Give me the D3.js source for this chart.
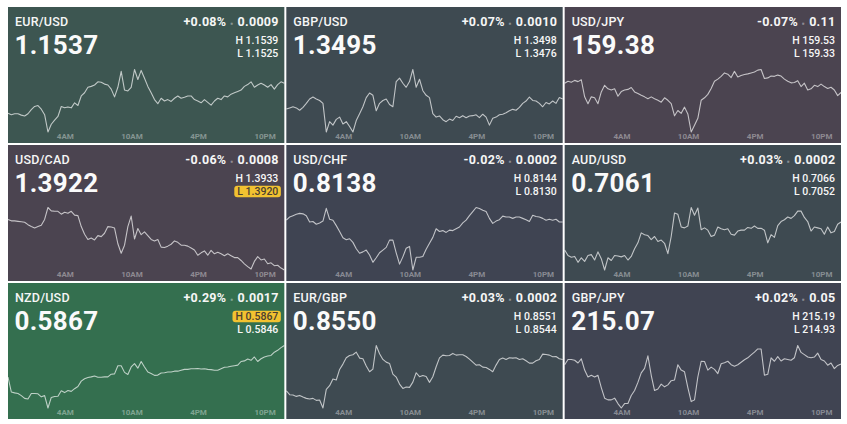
<!DOCTYPE html>
<html>
<head>
<meta charset="utf-8">
<script src="https://cdn.jsdelivr.net/npm/d3@7"></script>
<style>
  html, body { margin: 0; padding: 0; background: #fff; }
  svg { display: block; font-family: Roboto, "Noto Sans", sans-serif; }
</style>
</head>
<body>
<div class="fx-board"></div>
<script>
// ---- data ----
var pairs = ["EUR/USD", "GBP/USD", "USD/JPY", "USD/CAD", "USD/CHF", "AUD/USD", "NZD/USD", "EUR/GBP", "GBP/JPY"];
var lastPrices = ["1.1537", "1.3495", "159.38", "1.3922", "0.8138", "0.7061", "0.5867", "0.8550", "215.07"];
var changePct = ["+0.08%", "+0.07%", "-0.07%", "-0.06%", "-0.02%", "+0.03%", "+0.29%", "+0.03%", "+0.02%"];
var changeAbs = ["0.0009", "0.0010", "0.11", "0.0008", "0.0002", "0.0002", "0.0017", "0.0002", "0.05"];
var highs = ["1.1539", "1.3498", "159.53", "1.3933", "0.8144", "0.7066", "0.5867", "0.8551", "215.19"];
var lows = ["1.1525", "1.3476", "159.33", "1.3920", "0.8130", "0.7052", "0.5846", "0.8544", "214.93"];
var atExtreme = [null, null, null, "L", null, null, "H", null, null];
var panelColors = ["#3d5651", "#3e4a51", "#4b4450", "#4b4450", "#3f4452", "#3e4a51", "#346f4f", "#3e4a51", "#404452"];
var tickHours = [4, 10, 16, 22];

// one quote every 18 minutes, starting 22:50 the evening before
var startTime = new Date(2024, 5, 30, 22, 50);
var stepMinutes = 18;

var eurUsd = [1.15293,1.15290,1.15292,1.15292,1.15289,1.15287,1.15292,1.15301,1.15308,1.15310,1.15302,1.15290,1.15252,1.15269,1.15278,1.15286,1.15308,1.15305,1.15307,1.15305,1.15316,1.15310,1.15331,1.15338,1.15350,1.15352,1.15355,1.15362,1.15361,1.15357,1.15355,1.15346,1.15329,1.15350,1.15385,1.15344,1.15342,1.15350,1.15389,1.15367,1.15387,1.15370,1.15352,1.15338,1.15323,1.15314,1.15326,1.15320,1.15323,1.15319,1.15326,1.15331,1.15326,1.15328,1.15331,1.15331,1.15323,1.15320,1.15316,1.15323,1.15317,1.15311,1.15320,1.15326,1.15323,1.15331,1.15329,1.15335,1.15338,1.15341,1.15344,1.15352,1.15356,1.15362,1.15350,1.15355,1.15359,1.15355,1.15350,1.15356,1.15346,1.15356,1.15362,1.15359];
var gbpUsd = [1.34844,1.34848,1.34852,1.34848,1.34840,1.34850,1.34864,1.34879,1.34886,1.34879,1.34874,1.34864,1.34764,1.34800,1.34788,1.34808,1.34816,1.34792,1.34800,1.34783,1.34764,1.34804,1.34828,1.34852,1.34884,1.34900,1.34892,1.34838,1.34864,1.34874,1.34879,1.34860,1.34852,1.34940,1.34952,1.34934,1.34920,1.34940,1.34982,1.34920,1.34948,1.34908,1.34892,1.34884,1.34828,1.34816,1.34820,1.34807,1.34800,1.34809,1.34804,1.34819,1.34814,1.34821,1.34814,1.34820,1.34821,1.34824,1.34814,1.34826,1.34816,1.34788,1.34812,1.34816,1.34824,1.34826,1.34831,1.34838,1.34843,1.34840,1.34850,1.34864,1.34872,1.34886,1.34874,1.34872,1.34864,1.34852,1.34867,1.34862,1.34872,1.34864,1.34884,1.34879];
var usdJpy = [159.490,159.496,159.493,159.499,159.495,159.501,159.446,159.424,159.446,159.443,159.424,159.462,159.483,159.472,159.468,159.472,159.448,159.463,159.468,159.470,159.476,159.462,159.457,159.451,159.446,159.440,159.446,159.440,159.435,159.429,159.443,159.435,159.424,159.385,159.402,159.393,159.413,159.391,159.333,159.355,159.377,159.435,159.443,159.454,159.473,159.496,159.503,159.512,159.523,159.519,159.508,159.528,159.510,159.515,159.518,159.520,159.523,159.526,159.532,159.534,159.505,159.507,159.513,159.512,159.516,159.513,159.503,159.496,159.491,159.492,159.498,159.479,159.490,159.468,159.472,159.483,159.479,159.487,159.479,159.473,159.477,159.468,159.450,159.460];
var usdCad = [1.39307,1.39304,1.39304,1.39303,1.39302,1.39301,1.39296,1.39292,1.39289,1.39292,1.39295,1.39307,1.39332,1.39325,1.39324,1.39324,1.39318,1.39322,1.39320,1.39324,1.39316,1.39315,1.39292,1.39276,1.39265,1.39268,1.39264,1.39273,1.39271,1.39278,1.39292,1.39291,1.39289,1.39256,1.39236,1.39253,1.39292,1.39314,1.39266,1.39288,1.39275,1.39281,1.39273,1.39265,1.39262,1.39265,1.39249,1.39248,1.39251,1.39255,1.39262,1.39259,1.39253,1.39253,1.39251,1.39247,1.39243,1.39232,1.39237,1.39241,1.39232,1.39242,1.39235,1.39238,1.39235,1.39231,1.39235,1.39231,1.39227,1.39227,1.39221,1.39214,1.39208,1.39203,1.39219,1.39229,1.39222,1.39224,1.39214,1.39216,1.39210,1.39211,1.39205,1.39201];
var usdChf = [0.81412,0.81419,0.81422,0.81425,0.81427,0.81426,0.81422,0.81408,0.81409,0.81403,0.81406,0.81410,0.81438,0.81414,0.81412,0.81400,0.81387,0.81373,0.81369,0.81371,0.81363,0.81349,0.81339,0.81342,0.81346,0.81335,0.81319,0.81329,0.81340,0.81346,0.81352,0.81368,0.81368,0.81340,0.81315,0.81331,0.81350,0.81354,0.81302,0.81330,0.81330,0.81332,0.81348,0.81361,0.81374,0.81393,0.81387,0.81389,0.81385,0.81390,0.81389,0.81393,0.81397,0.81406,0.81412,0.81422,0.81431,0.81440,0.81438,0.81434,0.81431,0.81416,0.81405,0.81410,0.81413,0.81421,0.81419,0.81419,0.81416,0.81419,0.81419,0.81416,0.81413,0.81409,0.81423,0.81420,0.81419,0.81416,0.81412,0.81414,0.81412,0.81414,0.81408,0.81408];
var audUsd = [0.70566,0.70554,0.70550,0.70552,0.70539,0.70549,0.70541,0.70554,0.70556,0.70544,0.70562,0.70547,0.70522,0.70549,0.70543,0.70554,0.70553,0.70551,0.70554,0.70544,0.70552,0.70569,0.70582,0.70604,0.70600,0.70598,0.70589,0.70596,0.70585,0.70588,0.70581,0.70558,0.70596,0.70648,0.70645,0.70617,0.70615,0.70619,0.70660,0.70643,0.70659,0.70611,0.70615,0.70610,0.70596,0.70599,0.70617,0.70613,0.70611,0.70613,0.70601,0.70599,0.70608,0.70610,0.70610,0.70616,0.70614,0.70619,0.70614,0.70614,0.70610,0.70582,0.70600,0.70594,0.70620,0.70629,0.70633,0.70639,0.70636,0.70642,0.70652,0.70652,0.70638,0.70629,0.70608,0.70617,0.70615,0.70613,0.70601,0.70617,0.70604,0.70607,0.70623,0.70628];
var nzdUsd = [0.58564,0.58515,0.58512,0.58510,0.58503,0.58494,0.58492,0.58510,0.58510,0.58509,0.58499,0.58503,0.58462,0.58497,0.58500,0.58501,0.58519,0.58513,0.58520,0.58517,0.58526,0.58533,0.58551,0.58559,0.58563,0.58565,0.58568,0.58564,0.58564,0.58565,0.58565,0.58574,0.58575,0.58602,0.58602,0.58580,0.58573,0.58598,0.58609,0.58594,0.58616,0.58598,0.58581,0.58576,0.58570,0.58571,0.58578,0.58579,0.58581,0.58581,0.58584,0.58584,0.58587,0.58590,0.58590,0.58592,0.58592,0.58593,0.58591,0.58592,0.58590,0.58589,0.58587,0.58587,0.58592,0.58597,0.58598,0.58600,0.58602,0.58604,0.58616,0.58618,0.58624,0.58620,0.58631,0.58616,0.58625,0.58631,0.58634,0.58636,0.58647,0.58653,0.58662,0.58669];
var eurGbp = [0.854596,0.854552,0.854548,0.854533,0.854544,0.854526,0.854511,0.854504,0.854511,0.854489,0.854493,0.854404,0.854611,0.854652,0.854726,0.854715,0.854833,0.854892,0.854962,0.854988,0.854996,0.855025,0.854959,0.854951,0.854870,0.854807,0.854837,0.855099,0.855007,0.854944,0.854914,0.854900,0.854781,0.854748,0.854670,0.854622,0.854637,0.854633,0.854692,0.854796,0.854752,0.854766,0.854755,0.854689,0.854752,0.854863,0.854962,0.854992,0.854985,0.854988,0.855011,0.854992,0.854996,0.854996,0.854977,0.854948,0.854914,0.854881,0.854885,0.854859,0.854855,0.854833,0.854807,0.854881,0.854944,0.854959,0.854944,0.854962,0.854959,0.854962,0.854944,0.854951,0.854929,0.854903,0.854903,0.854929,0.854944,0.855003,0.854999,0.854992,0.854974,0.854977,0.854951,0.854944];
var gbpJpy = [215.109,215.130,215.130,215.127,215.116,215.133,215.087,215.059,215.066,215.059,215.066,215.016,214.973,214.966,214.966,214.973,214.951,214.933,214.951,214.951,214.984,215.004,215.037,215.076,215.094,215.145,215.066,215.004,215.010,215.030,215.019,215.027,215.044,215.047,215.109,215.087,215.080,215.016,214.959,214.966,215.059,215.123,215.122,215.087,215.099,215.090,215.073,215.113,215.117,215.123,215.109,215.103,215.109,215.119,215.129,215.137,215.149,215.160,215.173,215.173,215.066,215.070,215.137,215.123,215.142,215.124,215.133,215.130,215.127,215.137,215.187,215.159,215.150,215.140,215.137,215.140,215.156,215.130,215.124,215.107,215.116,215.093,215.106,215.112];

var series = [eurUsd, gbpUsd, usdJpy, usdCad, usdChf, audUsd, nzdUsd, eurGbp, gbpJpy];

// ---- layout ----
var W = 847, H = 424;
var board = { left: 8, top: 7, right: 841, bottom: 419, gap: 2 };
var cols = 3, rows = 3;
var panelW = (board.right - board.left - board.gap * (cols - 1)) / cols;
var panelH = (board.bottom - board.top - board.gap * (rows - 1)) / rows;

var times = series[0].map(function (d, i) {
	return d3.timeMinute.offset(startTime, i * stepMinutes);
});
var tickDates = tickHours.map(function (h) {
	return new Date(2024, 6, 1, h, 0);
});
var fmtTick = d3.timeFormat("%-I%p");

var svg = d3.select(".fx-board").append("svg")
	.attr("width", W)
	.attr("height", H);

pairs.forEach(function (pair, k) {
	var c = k % cols, r = Math.floor(k / cols);
	var x0 = board.left + c * (panelW + board.gap);
	var y0 = board.top + r * (panelH + board.gap);

	var g = svg.append("g")
		.attr("class", "panel")
		.attr("transform", "translate(" + x0 + "," + y0 + ")");

	g.append("rect")
		.attr("width", panelW)
		.attr("height", panelH)
		.attr("fill", panelColors[k]);

	var x = d3.scaleTime()
		.domain(d3.extent(times))
		.range([0, panelW]);

	var y = d3.scaleLinear()
		.domain(d3.extent(series[k]))
		.range([panelH - 11, 62.5]);

	var line = d3.line()
		.x(function (d, i) { return x(times[i]); })
		.y(function (d) { return y(d); });

	g.append("path")
		.datum(series[k])
		.attr("d", line)
		.attr("fill", "none")
		.attr("stroke", "rgba(255,255,255,0.68)")
		.attr("stroke-width", 1.1)
		.attr("stroke-linejoin", "round");

	// time labels
	g.selectAll(".tick")
		.data(tickDates)
		.enter().append("text")
		.attr("class", "tick")
		.attr("x", function (d) { return x(d); })
		.attr("y", panelH - 4)
		.attr("text-anchor", "middle")
		.attr("font-size", 8)
		.attr("font-weight", 700)
		.attr("fill", "rgba(255,255,255,0.38)")
		.text(fmtTick);

	g.append("text")
		.attr("x", 7)
		.attr("y", 19)
		.attr("font-size", 12.5)
		.attr("font-weight", 500)
		.attr("letter-spacing", 0.2)
		.attr("fill", "#f6f6f6")
		.text(pair);

	g.append("text")
		.attr("x", 6.5)
		.attr("y", 47)
		.attr("font-size", 26)
		.attr("font-weight", 700)
		.attr("letter-spacing", 0.3)
		.attr("fill", "#fafafa")
		.text(lastPrices[k]);

	var chg = g.append("text")
		.attr("x", panelW - 5.5)
		.attr("y", 19)
		.attr("text-anchor", "end")
		.attr("font-size", 12.5)
		.attr("font-weight", 700)
		.attr("letter-spacing", 0.3)
		.attr("fill", "#f6f6f6");
	chg.append("tspan").text(changePct[k]);
	chg.append("tspan")
		.attr("dx", 4)
		.attr("font-size", 8)
		.attr("fill", "rgba(255,255,255,0.4)")
		.text("\u25AA");
	chg.append("tspan").attr("dx", 4).text(changeAbs[k]);

	[["H", highs[k], 37], ["L", lows[k], 50]].forEach(function (hl) {
		var lit = atExtreme[k] === hl[0];
		var t = g.append("text")
			.attr("x", panelW - 6)
			.attr("y", hl[2])
			.attr("text-anchor", "end")
			.attr("font-size", 10.5)
			.attr("font-weight", 500)
			.attr("fill", lit ? "#4a4030" : "#f6f6f6")
			.text(hl[0] + " " + hl[1]);
		if (lit) {
			var bb = t.node().getBBox();
			g.insert("rect", function () { return t.node(); })
				.attr("x", bb.x - 3)
				.attr("y", hl[2] - 9.3)
				.attr("width", bb.width + 5.5)
				.attr("height", 11.5)
				.attr("rx", 3)
				.attr("fill", "#f2c230");
		}
	});
});
</script>
</body>
</html>
